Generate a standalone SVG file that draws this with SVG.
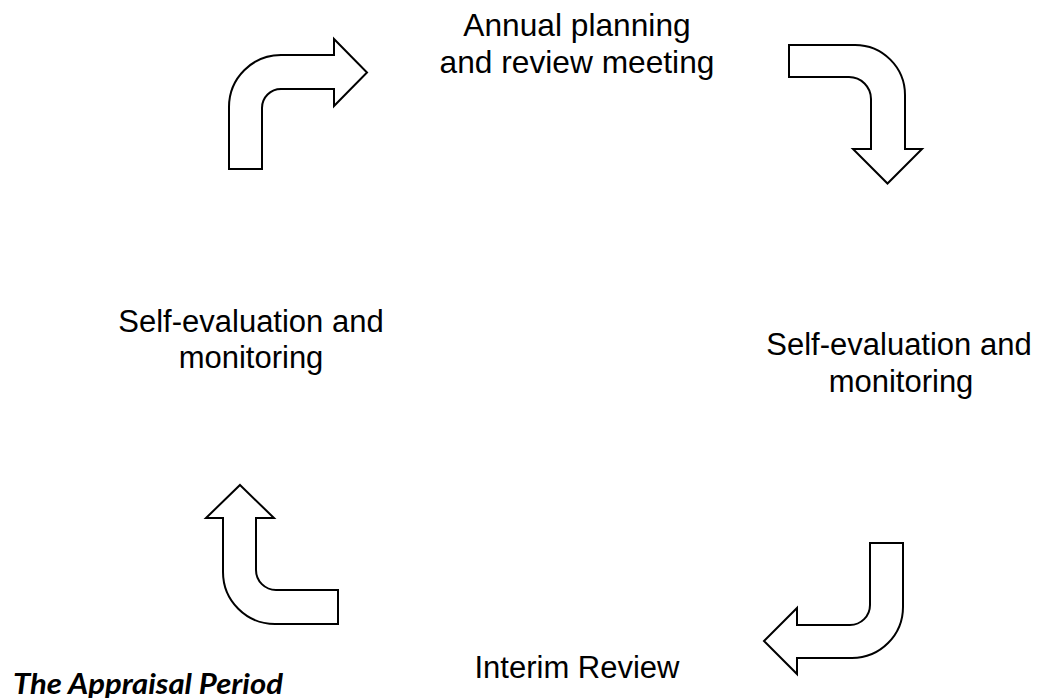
<svg xmlns="http://www.w3.org/2000/svg" width="1040" height="698" viewBox="0 0 1040 698">
  <style>
    .arrow { fill: #ffffff; stroke: #000000; stroke-width: 2; stroke-linejoin: miter; }
    .lbl { font-family: "Liberation Sans", Arial, sans-serif; font-size: 31px; fill: #000000; text-anchor: middle; }
    .title { font-family: Lato, "Open Sans", sans-serif; font-size: 29px; font-weight: bold; font-style: italic; fill: #000000; }
  </style>
  <rect width="1040" height="698" fill="#ffffff"/>
  <g id="connectors">
    <path id="arrow-top-left" class="arrow" d="M229,169 L229,107 A52,52 0 0 1 281,55 L334,55 L334,39 L367,72.5 L334,106 L334,89 L281,89 A19,19 0 0 0 262,108 L262,169 Z"/>
    <path id="arrow-top-right" class="arrow" d="M789,45 L855,45 A50,50 0 0 1 905,95 L905,149 L922,149 L887.5,183.5 L853,149 L871,149 L871,99 A22,22 0 0 0 849,77 L789,77 Z"/>
    <path id="arrow-bottom-right" class="arrow" d="M870,543 L903,543 L903,607 A51,51 0 0 1 852,658 L797,658 L797,674 L764,641 L797,608 L797,625 L850,625 A20,20 0 0 0 870,605 Z"/>
    <path id="arrow-bottom-left" class="arrow" d="M240,485 L274,518 L256,518 L256,570 A20,20 0 0 0 276,590 L338,590 L338,624 L275,624 A52,52 0 0 1 223,572 L223,518 L206,518 Z"/>
  </g>
  <g id="node-annual">
    <text class="lbl" x="577" y="36" style="font-size:31.7px">Annual planning</text>
    <text class="lbl" x="577" y="73" style="font-size:31.7px">and review meeting</text>
  </g>
  <g id="node-self-eval-right">
    <text class="lbl" x="899" y="355">Self-evaluation and</text>
    <text class="lbl" x="901" y="392">monitoring</text>
  </g>
  <g id="node-interim">
    <text class="lbl" x="577" y="678">Interim Review</text>
  </g>
  <g id="node-self-eval-left">
    <text class="lbl" x="251" y="332">Self-evaluation and</text>
    <text class="lbl" x="251" y="368">monitoring</text>
  </g>
  <g id="node-title">
    <text class="title" x="13" y="694" textLength="270" lengthAdjust="spacingAndGlyphs">The Appraisal Period</text>
  </g>
</svg>
